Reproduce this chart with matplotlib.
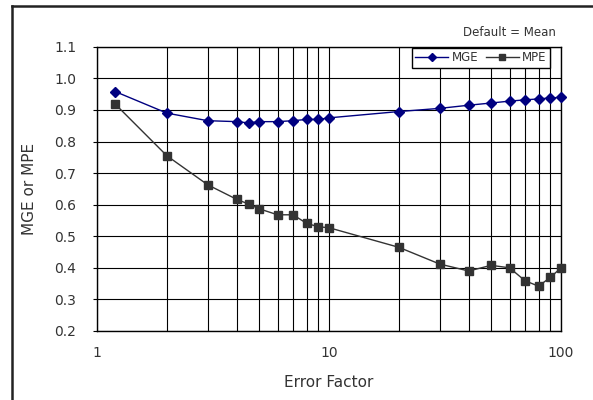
import matplotlib
matplotlib.use("Agg")
import matplotlib.pyplot as plt
from matplotlib.ticker import FixedLocator, FormatStrFormatter, NullFormatter

plt.rcParams['font.family'] = ['DejaVu Sans']

factor = [1.2, 2, 3, 4, 4.5, 5, 6, 7, 8, 9, 10, 20, 30, 40, 50, 60, 70, 80, 90, 100]
mge = [0.958, 0.89, 0.866, 0.863, 0.859, 0.863, 0.863, 0.866, 0.87, 0.87, 0.875,
       0.895, 0.905, 0.915, 0.922, 0.928, 0.932, 0.935, 0.938, 0.94]
mpe = [0.918, 0.755, 0.663, 0.617, 0.602, 0.587, 0.568, 0.568, 0.541, 0.53, 0.527,
       0.465, 0.412, 0.39, 0.408, 0.40, 0.359, 0.342, 0.37, 0.40]

txt = '#333333'

fig = plt.figure(figsize=(5.93, 4.0), dpi=100)
ax = fig.add_axes([0.1636, 0.1725, 0.7825, 0.7105])

ax.plot(factor, mge, color='#000080', marker='D', markersize=5, lw=1, label='MGE',
        zorder=3, clip_on=False)
ax.plot(factor, mpe, color='#333333', marker='s', markersize=5.5, lw=1, label='MPE',
        zorder=3, clip_on=False)

ax.set_xscale('log')
ax.set_xlim(1, 100)
ax.set_ylim(0.2, 1.1)
ax.set_yticks([0.2 + 0.1 * i for i in range(10)])
ax.yaxis.set_major_formatter(FormatStrFormatter('%.1f'))
ax.xaxis.set_major_locator(FixedLocator([1, 10, 100]))
ax.set_xticklabels(['1', '10', '100'])
ax.xaxis.set_minor_locator(FixedLocator([2, 3, 4, 5, 6, 7, 8, 9, 20, 30, 40, 50, 60, 70, 80, 90]))
ax.xaxis.set_minor_formatter(NullFormatter())
ax.grid(True, which='both', axis='x', color='black', lw=0.8)
ax.grid(True, which='major', axis='y', color='black', lw=0.8)
ax.tick_params(axis='x', which='both', length=0, labelsize=10, labelcolor=txt, pad=11)
ax.tick_params(axis='y', length=3, width=0.8, labelsize=10, labelcolor=txt, pad=12)
for s in ax.spines.values():
    s.set_linewidth(1)
    s.set_color('black')

ax.set_xlabel('Error Factor', fontsize=11, color=txt)
ax.set_ylabel('MGE or MPE', fontsize=11, color=txt)
ax.xaxis.set_label_coords(0.5, -0.155)
ax.yaxis.set_label_coords(-0.13, 0.5)

leg = ax.legend(loc='upper right', bbox_to_anchor=(0.977, 0.997), ncol=2, fontsize=8.5,
                frameon=True, fancybox=False, edgecolor='black', framealpha=1,
                borderpad=0.3, handlelength=2.8, columnspacing=0.6, handletextpad=0.3,
                borderaxespad=0, markerscale=0.75)
leg.get_frame().set_linewidth(1)
leg.set_zorder(5)
for t in leg.get_texts():
    t.set_color(txt)

fig.text(0.938, 0.918, 'Default = Mean', ha='right', va='center', fontsize=8.5, color=txt)

# chart frame: only the left and top edges are visible in the crop
fig.add_artist(plt.Line2D([0.021, 0.021], [0.0, 0.986], transform=fig.transFigure,
                          color='#222222', lw=1.8))
fig.add_artist(plt.Line2D([0.021, 1.0], [0.986, 0.986], transform=fig.transFigure,
                          color='#222222', lw=1.8))

fig.savefig('out.png', dpi=100)
